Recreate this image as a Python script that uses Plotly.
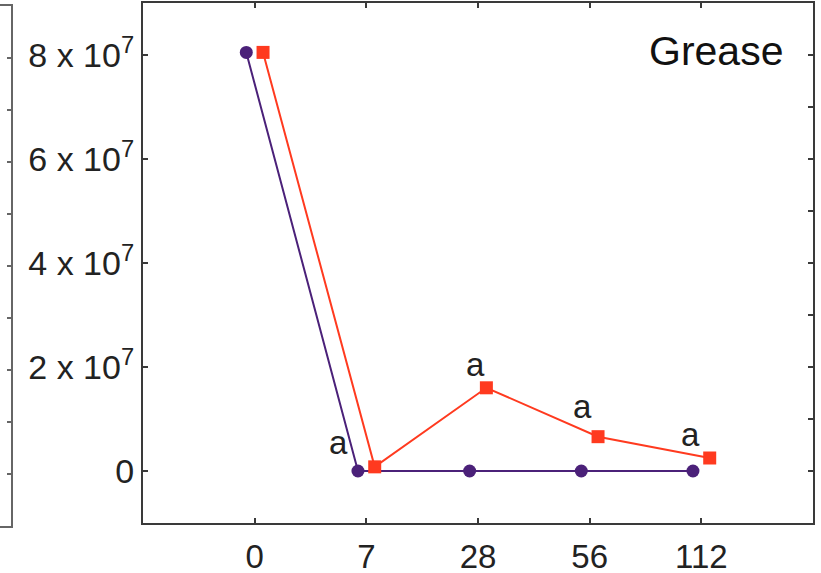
import plotly.graph_objects as go

# ---- data ----
days = ["0", "7", "28", "56", "112"]
series_purple = [8.05e7, 0, 0, 0, 0]
series_red = [8.05e7, 0.08e7, 1.60e7, 0.66e7, 0.25e7]
y_tick_vals = [0, 2e7, 4e7, 6e7, 8e7]
y_tick_text = ["0", "2 x 10<sup>7</sup>", "4 x 10<sup>7</sup>", "6 x 10<sup>7</sup>", "8 x 10<sup>7</sup>"]
sig_labels = ["a", "a", "a", "a"]
sig_x = [0.75, 1.98, 2.94, 3.90]
sig_y = [0.55e7, 2.04e7, 1.24e7, 0.70e7]
panel_title = "Grease"

W, H = 821, 573
PURPLE = "#4b2179"
RED = "#ff3a1f"
AX = "#3a3a3a"
FONT = "Liberation Sans, Arial, sans-serif"

idx = list(range(len(days)))
off = 0.075

fig = go.Figure()
fig.add_trace(go.Scatter(
    x=[i - off for i in idx], y=series_purple, mode="lines+markers",
    line=dict(color=PURPLE, width=2),
    marker=dict(symbol="circle", size=13, color=PURPLE),
    showlegend=False, cliponaxis=False))
fig.add_trace(go.Scatter(
    x=[i + off for i in idx], y=series_red, mode="lines+markers",
    line=dict(color=RED, width=2),
    marker=dict(symbol="square", size=13, color=RED),
    showlegend=False, cliponaxis=False))
# empty helper traces so the frame axes get drawn
fig.add_trace(go.Scatter(x=[None], y=[None], xaxis="x", yaxis="y2",
                         showlegend=False, hoverinfo="skip"))
fig.add_trace(go.Scatter(x=[None], y=[None], xaxis="x3", yaxis="y3",
                         showlegend=False, hoverinfo="skip"))

# main domains (pixel-based)
xd = [143 / W, 813 / W]
yd = [(H - 523) / H, (H - 3) / H]
# left neighbouring panel fragment
xd3 = [0, 11 / W]
yd3 = [(H - 526) / H, (H - 6) / H]
yr = [-1e7, 9e7]

fig.update_layout(
    width=W, height=H,
    margin=dict(l=0, r=0, t=0, b=0, autoexpand=False),
    paper_bgcolor="white", plot_bgcolor="white",
    font=dict(family=FONT, color="#222222"),
    xaxis=dict(
        domain=xd, range=[-1, 5], tickmode="array", tickvals=idx, ticktext=days,
        ticks="inside", ticklen=5, tickwidth=1.5, tickcolor=AX,
        showline=True, linecolor=AX, linewidth=2, mirror="ticks",
        showgrid=False, zeroline=False, automargin=False,
        tickfont=dict(size=33, family=FONT, color="#222222"),
        ticklabelstandoff=3, anchor="y"),
    yaxis=dict(
        domain=yd, range=yr, tickmode="array", tickvals=y_tick_vals, ticktext=y_tick_text,
        ticks="inside", ticklen=5, tickwidth=1.5, tickcolor=AX,
        showline=True, linecolor=AX, linewidth=2, mirror=False,
        showgrid=False, zeroline=False, automargin=False,
        tickfont=dict(size=34, family=FONT, color="#222222"),
        ticklabelstandoff=0, anchor="x"),
    yaxis2=dict(
        domain=yd, range=yr, overlaying="y", side="right", anchor="x",
        tickmode="linear", tick0=0, dtick=1e7,
        ticks="inside", ticklen=5, tickwidth=1.5, tickcolor=AX,
        showline=True, linecolor=AX, linewidth=2, automargin=False,
        showticklabels=False, showgrid=False, zeroline=False),
    xaxis3=dict(
        domain=xd3, range=[0, 1], anchor="y3",
        showline=True, linecolor="#666666", linewidth=2, mirror=True,
        ticks="", showticklabels=False, showgrid=False, zeroline=False, automargin=False),
    yaxis3=dict(
        domain=yd3, range=yr, anchor="x3", side="right",
        tickmode="linear", tick0=0, dtick=1e7,
        ticks="inside", ticklen=4, tickwidth=1.5, tickcolor="#666666",
        showline=True, linecolor="#666666", linewidth=2, automargin=False,
        showticklabels=False, showgrid=False, zeroline=False),
)

annots = [dict(x=sx, y=sy, text=t, xref="x", yref="y", showarrow=False,
               font=dict(size=33, family=FONT, color="#222222"))
          for t, sx, sy in zip(sig_labels, sig_x, sig_y)]
annots.append(dict(x=785 / W, y=(H - 51) / H, xref="paper", yref="paper",
                   xanchor="right", yanchor="middle", text=panel_title, showarrow=False,
                   font=dict(size=41, family=FONT, color="#111111")))
fig.update_layout(annotations=annots)

fig.write_html("out.html", config={"displayModeBar": False},
               post_script="document.body.style.margin='0';document.body.style.overflow='hidden';")
